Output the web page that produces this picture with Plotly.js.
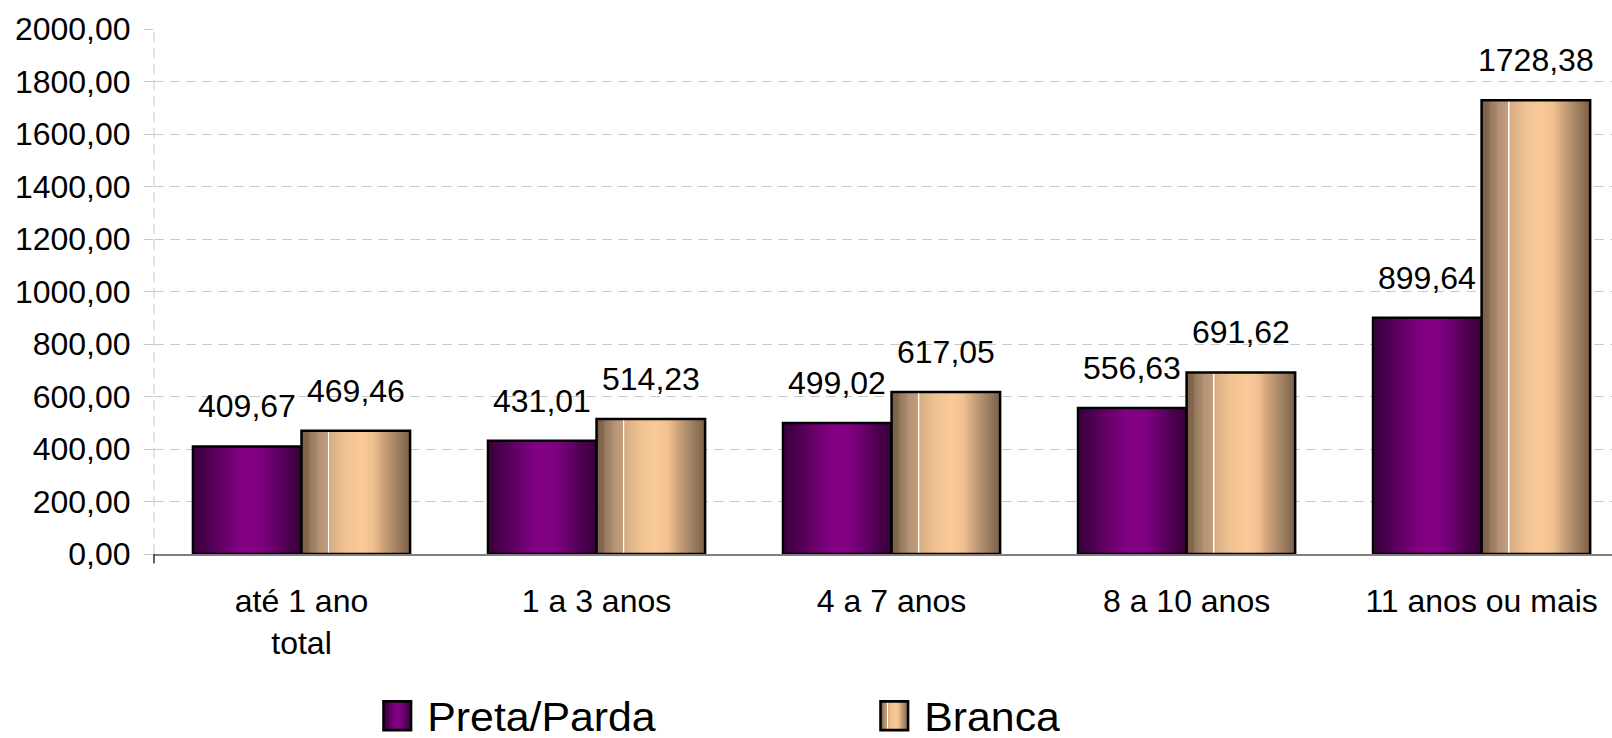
<!DOCTYPE html>
<html>
<head>
<meta charset="utf-8">
<script src="https://cdn.plot.ly/plotly-3.0.1.min.js"></script>
<style>
  html, body { margin: 0; padding: 0; background: #ffffff; }
  #chart { width: 1612px; height: 738px; }
</style>
</head>
<body>
<div id="chart"></div>
<svg width="0" height="0" style="position:absolute">
  <defs>
    <linearGradient id="gradPurple" x1="0" y1="0" x2="1" y2="0">
      <stop offset="0%" stop-color="#3a003c"/>
      <stop offset="12%" stop-color="#4a004e"/>
      <stop offset="28%" stop-color="#680069"/>
      <stop offset="42%" stop-color="#7e0080"/>
      <stop offset="52%" stop-color="#840084"/>
      <stop offset="64%" stop-color="#7c007e"/>
      <stop offset="78%" stop-color="#600064"/>
      <stop offset="90%" stop-color="#48004a"/>
      <stop offset="100%" stop-color="#38003b"/>
    </linearGradient>
    <linearGradient id="gradPeach" x1="0" y1="0" x2="1" y2="0">
      <stop offset="0%" stop-color="#7a5e46"/>
      <stop offset="7%" stop-color="#866a50"/>
      <stop offset="7.5%" stop-color="#967a5e"/>
      <stop offset="14%" stop-color="#a6876a"/>
      <stop offset="15%" stop-color="#b39174"/>
      <stop offset="24%" stop-color="#c39c7a"/>
      <stop offset="24.2%" stop-color="#ffffff"/>
      <stop offset="25.6%" stop-color="#ffffff"/>
      <stop offset="25.8%" stop-color="#d6ac84"/>
      <stop offset="40%" stop-color="#f0c292"/>
      <stop offset="55%" stop-color="#f9ca98"/>
      <stop offset="66%" stop-color="#f0c090"/>
      <stop offset="76%" stop-color="#caa07a"/>
      <stop offset="87%" stop-color="#a48466"/>
      <stop offset="100%" stop-color="#7a5e46"/>
    </linearGradient>
  </defs>
</svg>
<script>
// ---- data ----
const categories = ['até 1 ano<br>total', '1 a 3 anos', '4 a 7 anos', '8 a 10 anos', '11 anos ou mais'];
const seriesNames = ['Preta/Parda', 'Branca'];
const pretaParda = [409.67, 431.01, 499.02, 556.63, 899.64];
const branca = [469.46, 514.23, 617.05, 691.62, 1728.38];
const yTicks = [0, 200, 400, 600, 800, 1000, 1200, 1400, 1600, 1800, 2000];

// ---- styling ----
const FONT = '"Liberation Sans", Arial, sans-serif';
const BARGAP = 0.264;
const halfBar = (1 - BARGAP) / 4;
const fmt = v => v.toFixed(2).replace('.', ',');

const traces = [
  {
    type: 'bar', name: seriesNames[0], x: categories, y: pretaParda,
    marker: { color: '#800080', line: { color: '#000000', width: 2.5 } },
    hoverinfo: 'skip'
  },
  {
    type: 'bar', name: seriesNames[1], x: categories, y: branca,
    marker: { color: '#f8c896', line: { color: '#000000', width: 2.5 } },
    hoverinfo: 'skip'
  }
];

const annotations = [];
[pretaParda, branca].forEach((series, s) => {
  series.forEach((v, i) => {
    annotations.push({
      x: i + (s === 0 ? -halfBar : halfBar), xref: 'x',
      y: v, yref: 'y',
      text: fmt(v), showarrow: false,
      xanchor: 'center', yanchor: 'bottom', yshift: 20,
      font: { family: FONT, size: 32, color: '#000000' }
    });
  });
});

const layout = {
  width: 1612, height: 738,
  margin: { l: 154, r: 0, t: 29, b: 184, pad: 0, autoexpand: false },
  paper_bgcolor: '#ffffff', plot_bgcolor: '#ffffff',
  font: { family: FONT, size: 32, color: '#000000' },
  separators: ',.',
  barmode: 'group', bargap: BARGAP, bargroupgap: 0,
  showlegend: true,
  legend: {
    orientation: 'h', x: 0.160, xanchor: 'left', y: -0.370, yanchor: 'bottom',
    font: { family: FONT, size: 40, color: '#000000' },
    entrywidth: 452, entrywidthmode: 'pixels',
    bgcolor: 'rgba(0,0,0,0)', borderwidth: 0
  },
  xaxis: {
    type: 'category', range: [-0.5, 4.442],
    showgrid: false, zeroline: false,
    showline: true, linecolor: '#808080', linewidth: 2,
    ticks: '', tickfont: { family: FONT, size: 32, color: '#000000' },
    ticklabelstandoff: 18, layer: 'below traces', fixedrange: true
  },
  yaxis: {
    range: [0, 2000], tickvals: yTicks, tickformat: '.2f',
    showgrid: true, gridcolor: '#c8c8c8', gridwidth: 1, griddash: '10px,6px',
    zeroline: false, showline: false,
    ticks: 'outside', ticklen: 9, tickcolor: '#c8c8c8', tickwidth: 1,
    tickfont: { family: FONT, size: 32, color: '#000000' },
    ticklabelstandoff: 7, layer: 'below traces', fixedrange: true
  },
  shapes: [
    { type: 'line', xref: 'paper', yref: 'paper', x0: 0, x1: 0, y0: 0, y1: 1,
      line: { color: '#c8c8c8', width: 1, dash: '10px,6px' }, layer: 'below' },
    { type: 'line', xref: 'paper', yref: 'paper', x0: 0, x1: 0, y0: 0, y1: -0.018,
      line: { color: '#303030', width: 1.5 }, layer: 'above' }
  ],
  annotations: annotations,
  hovermode: false
};

Plotly.newPlot('chart', traces, layout, { displayModeBar: false, staticPlot: true }).then(gd => {
  const grads = ['url(#gradPurple)', 'url(#gradPeach)'];
  gd.querySelectorAll('.barlayer .trace.bars').forEach((tr, t) => {
    tr.querySelectorAll('path').forEach(p => { p.style.fill = grads[t]; });
  });
  gd.querySelectorAll('.legend [clip-path]').forEach(el => el.removeAttribute('clip-path'));
  const lg = gd.querySelector('.legend');
  if (lg) lg.removeAttribute('clip-path');
  gd.querySelectorAll('.legend .traces').forEach((tr, t) => {
    tr.querySelectorAll('.legendpoints path').forEach(p => {
      p.style.fill = grads[t];
      p.style.strokeWidth = '1.1px';
      p.setAttribute('transform', 'translate(10,0) scale(2.3,2.4)');
    });
    const txt = tr.querySelector('text.legendtext');
    if (txt && txt.getComputedTextLength) {
      const w = txt.getComputedTextLength();
      txt.setAttribute('textLength', (w * 1.07).toFixed(1));
      txt.setAttribute('lengthAdjust', 'spacingAndGlyphs');
    }
  });
});
</script>
</body>
</html>
